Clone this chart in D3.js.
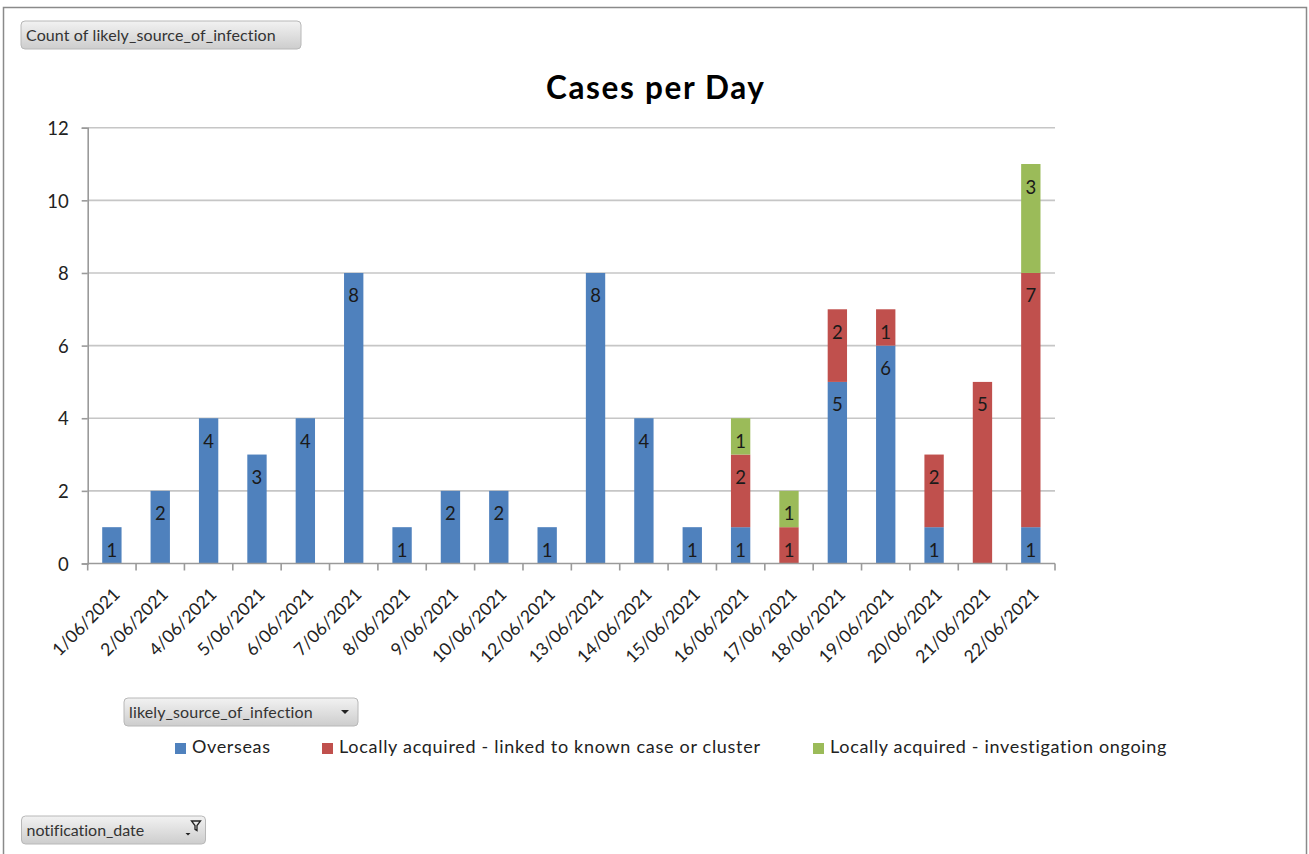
<!DOCTYPE html>
<html><head><meta charset="utf-8">
<script src="https://cdn.jsdelivr.net/npm/d3@7"></script>
<style>
html,body{margin:0;padding:0;background:#fff;}
svg{display:block;}
text{font-family:Lato,"Open Sans",sans-serif;}
</style></head>
<body>
<svg id="c" width="1309" height="854"></svg>
<script>
const dates = ["1/06/2021","2/06/2021","4/06/2021","5/06/2021","6/06/2021","7/06/2021","8/06/2021","9/06/2021","10/06/2021","12/06/2021","13/06/2021","14/06/2021","15/06/2021","16/06/2021","17/06/2021","18/06/2021","19/06/2021","20/06/2021","21/06/2021","22/06/2021"];
const overseas = [1,2,4,3,4,8,1,2,2,1,8,4,1,1,0,5,6,1,0,1];
const linked   = [0,0,0,0,0,0,0,0,0,0,0,0,0,2,1,2,1,2,5,7];
const investigating = [0,0,0,0,0,0,0,0,0,0,0,0,0,1,1,0,0,0,0,3];
const seriesNames = ["Overseas","Locally acquired - linked to known case or cluster","Locally acquired - investigation ongoing"];
const seriesColors = ["#4F81BD","#C0504D","#9BBB59"];
const yTicks = [0,2,4,6,8,10,12];
const title = "Cases per Day";

const svg = d3.select("#c");
const defs = svg.append("defs");
const grad = defs.append("linearGradient").attr("id","btn").attr("x1",0).attr("y1",0).attr("x2",0).attr("y2",1);
grad.append("stop").attr("offset","0%").attr("stop-color","#f2f2f2");
grad.append("stop").attr("offset","100%").attr("stop-color","#cdcdcd");

// stretch letter-spacing so a text spans a given width
function fit(sel, target){
  sel.each(function(){
    const len = this.getComputedTextLength();
    const n = this.textContent.length;
    if(n>1) d3.select(this).attr("letter-spacing", (target-len)/(n-1));
  });
}

// outer frame
svg.append("rect").attr("x",3.5).attr("y",7.5).attr("width",1303).attr("height",900)
  .attr("fill","#fff").attr("stroke","#8a8a8a").attr("stroke-width",1.5);

const pLeft = 87.7, pRight = 1055, pTop = 127.7, pBottom = 563.5;
const x = d3.scaleBand().domain(dates).range([pLeft,pRight]).paddingInner(0.6).paddingOuter(0.3);
const xb = d3.scaleBand().domain(dates).range([pLeft,pRight]);
const y = d3.scaleLinear().domain([0,12]).range([pBottom,pTop]);

// gridlines
svg.append("g").selectAll("line").data(yTicks.filter(d=>d>0)).join("line")
  .attr("x1",pLeft).attr("x2",pRight).attr("y1",d=>y(d)).attr("y2",d=>y(d))
  .attr("stroke","#c6c6c6").attr("stroke-width",1.6);

// stacked data
const rows = dates.map((d,i)=>({date:d, s0:overseas[i], s1:linked[i], s2:investigating[i]}));
const stack = d3.stack().keys(["s0","s1","s2"])(rows);

const gBars = svg.append("g");
stack.forEach((layer,k)=>{
  gBars.append("g").selectAll("rect").data(layer.filter(d=>d[1]-d[0]>0)).join("rect")
    .attr("x",d=>x(d.data.date)).attr("width",x.bandwidth())
    .attr("y",d=>y(d[1])).attr("height",d=>y(d[0])-y(d[1]))
    .attr("fill",seriesColors[k]);
});
stack.forEach((layer,k)=>{
  gBars.append("g").selectAll("text").data(layer.filter(d=>d[1]-d[0]>0)).join("text")
    .attr("x",d=>x(d.data.date)+x.bandwidth()/2)
    .attr("y",d=>y(d[1])+29.5)
    .attr("text-anchor","middle")
    .attr("font-size",18.5).attr("fill","#1a1a1a")
    .text(d=>d[1]-d[0]);
});

// y axis
const yAxis = d3.axisLeft(y).tickValues(yTicks).tickSize(6).tickPadding(13);
const gy = svg.append("g").attr("transform",`translate(${pLeft},0)`).call(yAxis);
gy.select(".domain").attr("stroke","#9a9a9a").attr("stroke-width",1.6);
gy.selectAll(".tick line").attr("stroke","#9a9a9a").attr("stroke-width",1.6);
gy.selectAll(".tick text").attr("font-size",18.5).attr("fill","#222").attr("dy","0.36em").style("font-family","Lato,sans-serif");

// x axis
const gx = svg.append("g").attr("transform",`translate(0,${pBottom})`);
gx.append("line").attr("x1",pLeft).attr("x2",pRight).attr("stroke","#9a9a9a").attr("stroke-width",1.6);
const bounds = dates.map(d=>xb(d)).concat([pRight]);
gx.selectAll("line.t").data(bounds).join("line").attr("class","t")
  .attr("x1",d=>d).attr("x2",d=>d).attr("y1",0).attr("y2",7)
  .attr("stroke","#9a9a9a").attr("stroke-width",1.6);
gx.selectAll("text").data(dates).join("text")
  .attr("transform",d=>`translate(${xb(d)+xb.bandwidth()/2+9},${32}) rotate(-45)`)
  .attr("text-anchor","end")
  .attr("font-size",17.5).attr("fill","#222").text(d=>d);

// title
svg.append("text").attr("x",655.8).attr("y",99).attr("text-anchor","middle")
  .attr("font-size",31.5).attr("font-weight","bold").attr("fill","#000").text(title)
  .call(fit, 218);

// buttons
function button(x0,y0,w,h,label,tw,icon){
  const g = svg.append("g");
  g.append("rect").attr("x",x0).attr("y",y0).attr("width",w).attr("height",h).attr("rx",4)
    .attr("fill","url(#btn)").attr("stroke","#b8b8b8");
  g.append("text").attr("x",x0+5).attr("y",y0+20).attr("font-size",16).attr("fill","#333").text(label)
    .call(fit, tw);
  if(icon==="drop"){
    g.append("path").attr("d",`M${x0+w-17},${y0+h/2-2} l8,0 l-4,4 z`).attr("fill","#222");
  } else if(icon==="filter"){
    g.append("path").attr("d",`M${x0+w-20},${y0+h/2+3} l5,0 l-2.5,2.5 z`).attr("fill","#222");
    g.append("path").attr("d",`M${x0+w-14},${y0+h/2-9} l9,0 l-3.5,4.5 l0,5 l-2,-1.2 l0,-3.8 z`).attr("fill","none").attr("stroke","#222").attr("stroke-width",1.3);
  }
}
button(21,21,280,28,"Count of likely_source_of_infection",250);
button(124,698,234,28,"likely_source_of_infection",184,"drop");
button(21.5,816,184,28,"notification_date",118,"filter");

// legend
const legendX = [175,322,813];
const legendW = [78,421,337];
const lg = svg.append("g");
seriesNames.forEach((n,i)=>{
  lg.append("rect").attr("x",legendX[i]).attr("y",743).attr("width",11).attr("height",11).attr("fill",seriesColors[i]);
  lg.append("text").attr("x",legendX[i]+17).attr("y",752.5)
    .attr("font-size",18).attr("fill","#222").text(n).call(fit, legendW[i]);
});
</script>
</body></html>
